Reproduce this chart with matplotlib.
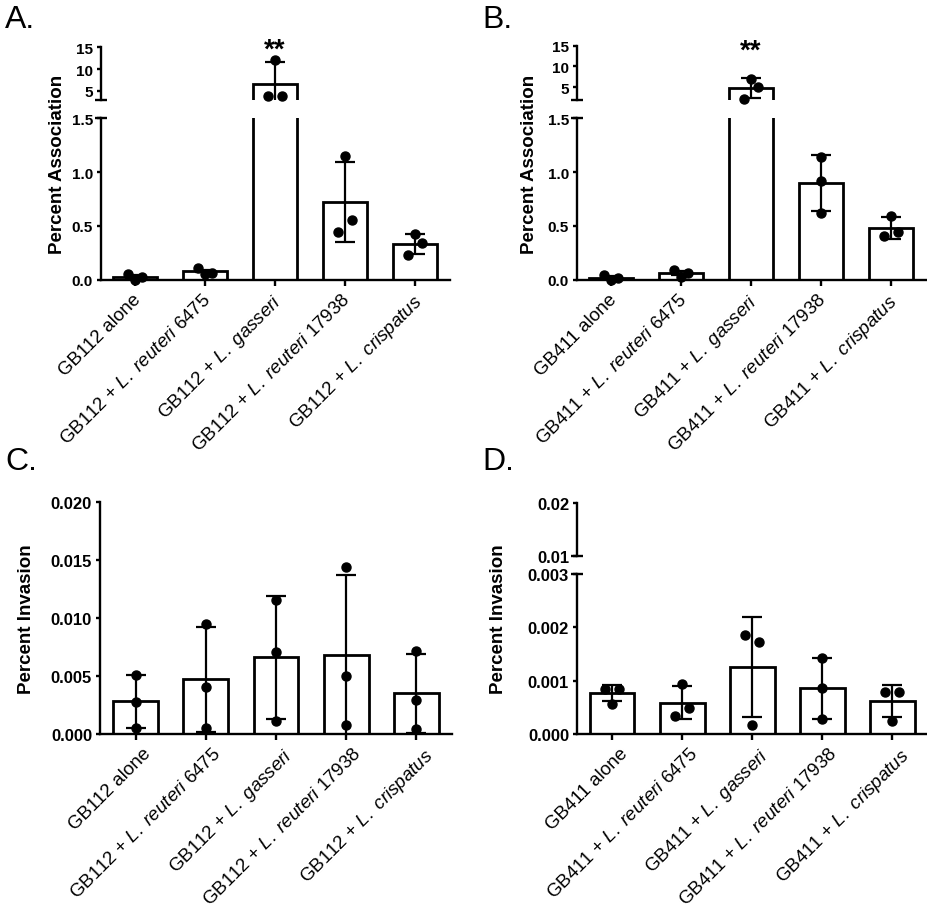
import matplotlib
matplotlib.use('Agg')
import matplotlib.pyplot as plt
import matplotlib.transforms as mtransforms
import numpy as np

plt.rcParams['font.family'] = 'Liberation Sans'
plt.rcParams['mathtext.fontset'] = 'custom'
plt.rcParams['mathtext.rm'] = 'Liberation Sans'
plt.rcParams['mathtext.it'] = 'Liberation Sans:italic'

# group labels
species = ['alone', r'+ $\mathit{L.\ reuteri}$ 6475', r'+ $\mathit{L.\ gasseri}$',
           r'+ $\mathit{L.\ reuteri}$ 17938', r'+ $\mathit{L.\ crispatus}$']
labels_112 = ['GB112 ' + s for s in species]
labels_411 = ['GB411 ' + s for s in species]

# A: GB112 association
a_mean = [0.03, 0.08, 6.6, 0.72, 0.335]
a_sd = [0.02, 0.01, 5.0, 0.37, 0.095]
a_pts = [[0.055, 0.0, 0.03], [0.115, 0.056, 0.068], [3.7, 12.0, 3.7],
         [0.44, 1.15, 0.56], [0.23, 0.43, 0.34]]

# B: GB411 association
b_mean = [0.02, 0.062, 4.8, 0.895, 0.483]
b_sd = [0.02, 0.02, 2.5, 0.26, 0.1]
b_pts = [[0.046, 0.0, 0.015], [0.093, 0.025, 0.068], [2.1, 7.0, 5.0],
         [1.136, 0.913, 0.62], [0.41, 0.594, 0.44]]

# C: GB112 invasion
c_mean = [0.0028, 0.0047, 0.0066, 0.0068, 0.0035]
c_sd = [0.0023, 0.0045, 0.0053, 0.0069, 0.0034]
c_pts = [[0.0051, 0.00275, 0.00052], [0.0095, 0.00404, 0.00052],
         [0.01155, 0.0071, 0.0011], [0.0144, 0.00504, 0.00074],
         [0.00713, 0.0029, 0.00046]]

# D: GB411 invasion
d_mean = [0.00076, 0.00059, 0.00126, 0.00086, 0.00061]
d_sd = [0.00015, 0.00031, 0.00094, 0.00057, 0.0003]
d_pts = [[0.00084, 0.00057, 0.00084], [0.00033, 0.00093, 0.00048],
         [0.00185, 0.00017, 0.00173], [0.00142, 0.00086, 0.00028],
         [0.00078, 0.00025, 0.00078]]

# horizontal scatter pattern of the dots (layout only)
spread = [-1, 0, 1]
a_offs = [spread] * 5
b_offs = [spread, spread, spread, [0, 0, 0], spread]
c_offs = [[0, 0, 0]] * 5
d_offs = [spread, spread, spread, [0, 0, 0], spread]

LW = 2.0
SPINE = 1.7


def style_ax(ax, ysize, bottom=True):
    for s in ['top', 'right']:
        ax.spines[s].set_visible(False)
    ax.spines['left'].set_linewidth(SPINE)
    ax.spines['bottom'].set_linewidth(SPINE)
    ax.tick_params(axis='y', width=SPINE, length=3.2, labelsize=ysize, pad=2.5)
    if bottom:
        ax.tick_params(axis='x', width=SPINE, length=4.5, labelsize=13.5, pad=3)
    else:
        ax.spines['bottom'].set_visible(False)
        ax.tick_params(axis='x', bottom=False, labelbottom=False)


def break_cap(ax, where):
    # short T-shaped end of a broken axis segment
    ax.plot(0, where, marker='_', ms=8.6, mew=SPINE, color='black',
            transform=ax.transAxes, clip_on=False, zorder=5)


def draw(ax, means, sds, pts, offs, lo, hi, xlim):
    x = np.arange(len(means))
    ax.bar(x, means, width=0.64, color='white', edgecolor='black', linewidth=LW, zorder=2)
    ax.errorbar(x, means, yerr=sds, fmt='none', ecolor='black', elinewidth=1.6,
                capsize=7.5, capthick=1.6, zorder=3)
    for i in x:
        for p, o in zip(pts[i], offs[i]):
            if lo <= p <= hi:
                ax.plot(i + 0.1 * o, p, 'o', color='black', ms=6.5, zorder=4, clip_on=False)
    ax.set_ylim(lo, hi)
    ax.set_xlim(*xlim)


def ticks(ax, vals, labs):
    ax.set_yticks(vals)
    ax.set_yticklabels(labs, fontweight='bold')


def xlabels(ax, labs, shift):
    ax.set_xticks(np.arange(len(labs)))
    ax.set_xticklabels(labs, rotation=45, ha='right', va='top', rotation_mode='anchor')
    off = mtransforms.ScaledTranslation(shift / 72, 0, fig.dpi_scale_trans)
    for t in ax.get_xticklabels():
        t.set_transform(t.get_transform() + off)


fig = plt.figure(figsize=(9.28, 9.12), dpi=100)

# ---- A ----
xl_a = (-0.486, 4.5)
axA = fig.add_axes([0.1088, 0.6919, 0.3761, 0.1776])
axA2 = fig.add_axes([0.1088, 0.8893, 0.3761, 0.0578])
draw(axA, a_mean, a_sd, a_pts, a_offs, 0, 1.5, xl_a)
draw(axA2, a_mean, a_sd, a_pts, a_offs, 2.9, 15, xl_a)
style_ax(axA, 11)
style_ax(axA2, 11, bottom=False)
ticks(axA, [0, 0.5, 1.0, 1.5], ['0.0', '0.5', '1.0', '1.5'])
ticks(axA2, [5, 10, 15], ['5', '10', '15'])
break_cap(axA, 1)
break_cap(axA2, 0)
xlabels(axA, labels_112, -2)
axA2.text(2, 17.4, '**', ha='center', va='top', fontsize=20, fontweight='bold')
fig.text(0.0625, 0.82, 'Percent Association', rotation=90, ha='center', va='center',
         fontsize=13.5, fontweight='bold')

# ---- B ----
xl_b = (-0.486, 4.53)
axB = fig.add_axes([0.6218, 0.6919, 0.3782, 0.1776])
axB2 = fig.add_axes([0.6218, 0.8896, 0.3782, 0.0592])
draw(axB, b_mean, b_sd, b_pts, b_offs, 0, 1.5, xl_b)
draw(axB2, b_mean, b_sd, b_pts, b_offs, 2.0, 15, xl_b)
style_ax(axB, 11)
style_ax(axB2, 11, bottom=False)
ticks(axB, [0, 0.5, 1.0, 1.5], ['0.0', '0.5', '1.0', '1.5'])
ticks(axB2, [5, 10, 15], ['5', '10', '15'])
break_cap(axB, 1)
break_cap(axB2, 0)
xlabels(axB, labels_411, -2)
axB2.text(2, 16.9, '**', ha='center', va='top', fontsize=20, fontweight='bold')
fig.text(0.571, 0.82, 'Percent Association', rotation=90, ha='center', va='center',
         fontsize=13.5, fontweight='bold')

# ---- C ----
axC = fig.add_axes([0.1078, 0.1941, 0.3793, 0.2544])
draw(axC, c_mean, c_sd, c_pts, c_offs, 0, 0.02, (-0.51, 4.51))
style_ax(axC, 12)
ticks(axC, [0, 0.005, 0.01, 0.015, 0.02], ['0.000', '0.005', '0.010', '0.015', '0.020'])
xlabels(axC, labels_112, 5)
fig.text(0.029, 0.321, 'Percent Invasion', rotation=90, ha='center', va='center',
         fontsize=13.5, fontweight='bold')

# ---- D ----
xl_d = (-0.5, 4.51)
axD = fig.add_axes([0.6218, 0.1941, 0.3782, 0.1754])
axD2 = fig.add_axes([0.6218, 0.3893, 0.3782, 0.0581])
draw(axD, d_mean, d_sd, d_pts, d_offs, 0, 0.003, xl_d)
draw(axD2, d_mean, d_sd, d_pts, d_offs, 0.01, 0.02, xl_d)
style_ax(axD, 12)
style_ax(axD2, 12, bottom=False)
ticks(axD, [0, 0.001, 0.002, 0.003], ['0.000', '0.001', '0.002', '0.003'])
ticks(axD2, [0.01, 0.02], ['0.01', '0.02'])
break_cap(axD, 1)
break_cap(axD2, 0)
xlabels(axD, labels_411, 5)
fig.text(0.537, 0.321, 'Percent Invasion', rotation=90, ha='center', va='center',
         fontsize=13.5, fontweight='bold')

# panel letters
for lx, ly, t in [(5, 5, 'A.'), (482, 5, 'B.'), (5, 447, 'C.'), (482, 447, 'D.')]:
    fig.text(lx / 928, 1 - ly / 912, t, ha='left', va='top', fontsize=23)

fig.savefig('out.png', dpi=100)
